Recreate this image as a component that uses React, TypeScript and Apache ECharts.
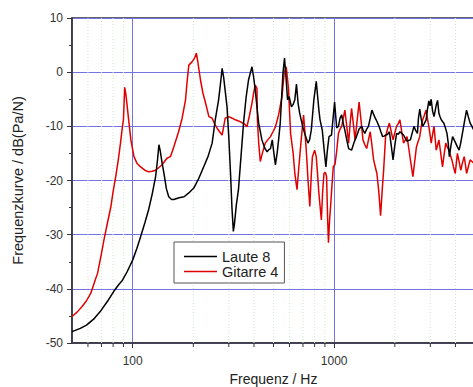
import React, { useEffect, useRef } from "react";
import * as echarts from "echarts";

const lauteFreq = [50, 55, 59, 64, 69, 75, 80.5, 85, 89, 94, 100, 105, 109.5, 115, 120, 125, 130, 133, 135, 137, 140, 143, 147, 151, 156, 160, 170, 180, 190, 201, 213, 225, 237, 248, 257, 267, 273, 278, 283, 288, 294, 300, 306, 311, 316, 320, 327, 335, 345, 355, 366, 376, 391, 398, 406, 414, 422, 438, 452, 465, 474, 483, 493, 500, 511, 521, 530, 540, 549, 557, 567, 573, 578, 587, 598, 606, 614, 625, 638, 650, 662, 674, 686, 700, 714, 741, 755, 770, 781, 793, 815, 828, 840, 851, 873, 890, 910, 925, 943, 970, 985, 1005, 1020, 1030, 1050, 1070, 1090, 1110, 1130, 1155, 1180, 1220, 1255, 1290, 1330, 1370, 1395, 1420, 1450, 1480, 1510, 1540, 1570, 1600, 1635, 1670, 1705, 1740, 1770, 1800, 1840, 1880, 1920, 1960, 2000, 2040, 2080, 2120, 2165, 2210, 2255, 2300, 2340, 2390, 2440, 2490, 2540, 2590, 2620, 2660, 2700, 2750, 2800, 2860, 2900, 2950, 2990, 3030, 3080, 3130, 3170, 3210, 3260, 3310, 3350, 3400, 3450, 3500, 3560, 3630, 3680, 3730, 3800, 3870, 3940, 4010, 4090, 4170, 4250, 4330, 4440, 4540, 4630, 4730, 4830, 4930, 5000];
const lauteDb = [-47.9, -47.3, -46.7, -45.6, -44.2, -42.3, -40.5, -39.3, -38.4, -36.8, -34.7, -32.5, -30.4, -27.8, -25.4, -22.5, -19.3, -16, -13.4, -14.5, -16.8, -18.7, -21.5, -23.0, -23.5, -23.5, -23.2, -23.0, -22.3, -21.4, -19.6, -17.5, -15.5, -13.1, -8.8, -5.1, -2, 0.7, -1, -3.5, -6.4, -12, -18.7, -25, -29.4, -28, -24.5, -21.7, -15.5, -9.4, -4.5, -1.4, 1.0, -0.8, -3.3, -6.5, -9.4, -12.5, -14, -14.7, -14.3, -14.1, -12.5, -14.4, -17.1, -15.0, -12.5, -9.4, -4.5, -0.2, 2.6, 0.5, -1.4, -5.1, -4.5, -5.5, -6.4, -6, -5.1, -2.2, -5.7, -7.5, -8.8, -10.2, -11.3, -13.1, -12.5, -10.7, -8, -5.1, -1.7, -4.5, -7.0, -8.8, -10.7, -14, -17.5, -14.5, -11.9, -11.6, -9, -5.5, -8.5, -10.3, -10.0, -8.5, -7.9, -9.5, -10.7, -12.5, -14.1, -14.4, -13, -11.9, -10.5, -10.0, -10.8, -11.3, -10.5, -10.0, -8.5, -7.0, -7.8, -8.5, -9.2, -10.0, -11, -11.9, -11.8, -11.6, -11.5, -11.0, -13.5, -16.2, -13.5, -11.3, -11.5, -11.0, -11.3, -11.6, -12.2, -12.8, -12.6, -12.5, -11.2, -10.0, -10.8, -11.3, -8.5, -6.8, -8.5, -10.0, -9.5, -8.8, -7, -5.3, -6.2, -5.0, -7.2, -8.2, -7.2, -6.1, -5.2, -7.6, -8.2, -8.8, -9.1, -9.4, -10.2, -11.3, -13, -15.6, -13.5, -11.9, -12.5, -13.1, -13.8, -14.4, -13, -11.3, -9, -7.0, -8.2, -9.4, -10, -10.7, -10.3];

const gitarreFreq = [50, 53, 56, 59, 62, 65, 67, 70, 72, 75, 78, 80, 82.4, 85, 87, 89, 90, 91.3, 92.5, 94, 96, 98, 101.5, 105, 109.5, 115, 120, 125, 130, 135, 140, 148, 154, 160, 169, 176, 183, 186, 190, 197, 203, 207, 210, 217, 223, 230, 239, 248, 255, 263, 270, 278, 283, 288, 300, 312, 323, 335, 348, 360, 369, 380, 391, 400, 406, 410, 414, 416, 422, 430, 440, 455, 468, 483, 497, 511, 530, 551, 565, 578, 586, 594, 601, 608, 617, 626, 638, 654, 668, 686, 705, 716, 727, 742, 757, 770, 780, 800, 815, 828, 840, 864, 877, 890, 905, 917, 928, 937, 950, 960, 975, 990, 1010, 1030, 1050, 1070, 1090, 1110, 1130, 1155, 1180, 1200, 1220, 1245, 1270, 1300, 1330, 1360, 1390, 1420, 1450, 1480, 1510, 1540, 1570, 1600, 1630, 1665, 1700, 1730, 1760, 1780, 1800, 1840, 1880, 1920, 1960, 2000, 2040, 2080, 2120, 2165, 2210, 2255, 2300, 2345, 2390, 2460, 2510, 2560, 2610, 2660, 2700, 2750, 2800, 2860, 2900, 2950, 2990, 3030, 3080, 3130, 3170, 3210, 3260, 3310, 3380, 3450, 3510, 3580, 3640, 3710, 3770, 3840, 3910, 3990, 4040, 4090, 4170, 4250, 4330, 4420, 4480, 4540, 4630, 4730, 4830, 4930, 5000];
const gitarreDb = [-45.1, -44.3, -43.3, -42.2, -40.8, -38.5, -37.1, -33.5, -31.0, -27.8, -24.8, -22, -19.3, -16, -13.1, -10, -8.8, -2.8, -4, -6.4, -9.5, -12.5, -15.6, -16.8, -17.5, -18.1, -18.4, -18.3, -18.1, -17.6, -17.1, -15.9, -15.6, -13.8, -11.0, -8.5, -5.1, -2, 1.3, 1.9, 2.6, 3.5, 2.2, -1.4, -3.8, -5.7, -8.2, -8.5, -9.5, -10.4, -11, -11.6, -10, -8.5, -8.2, -8.5, -8.8, -9, -9.3, -9.6, -10.1, -8, -5.7, -3.5, -2.4, -2.7, -3.0, -8.8, -13, -16.5, -15, -13.1, -12.5, -11.9, -11, -10.1, -7.9, -4.5, -0.2, 1.0, -1, -3.3, -7.5, -11.3, -13.2, -15.0, -18.7, -21.7, -17.5, -12.5, -7.9, -11, -14.4, -20, -24.8, -19, -15.6, -14.4, -15.6, -19, -22.4, -27.3, -22, -18.7, -18.5, -19.3, -27, -31.5, -27, -24.8, -21, -17.5, -17, -14.5, -11.3, -10.5, -10.0, -8.5, -7.0, -10, -13.1, -9.5, -6.7, -9.5, -12.5, -9, -5.5, -9, -12.5, -13.4, -14.1, -12.5, -11.0, -13.5, -16.2, -17.5, -18.7, -22, -26.5, -22, -18.1, -15, -11.9, -10.5, -9.4, -11, -12.5, -11.2, -10.0, -9.5, -8.8, -11, -13.1, -12.5, -11.9, -14, -16.2, -19.3, -16.5, -13.8, -12.8, -11.9, -10.2, -8.8, -8, -7.0, -8.5, -10.0, -11.5, -13.1, -11.5, -10.0, -12.2, -14.4, -13.5, -12.5, -15, -17.5, -15.3, -13.1, -13.8, -14.4, -15.3, -16.2, -17.5, -18.7, -16.8, -15.0, -16.5, -18.1, -16.8, -15.6, -17, -18.7, -17.5, -16.2, -16.5, -16.8, -16.5];

const minorFreqs = [60, 70, 80, 90, 200, 300, 400, 500, 600, 700, 800, 900, 2000, 3000, 4000];
const seriesNames = ["Laute 8", "Gitarre 4"];
const xAxisName = "Frequenz / Hz";
const yAxisName = "Frequenzkurve / dB(Pa/N)";

const FONT = "'Liberation Sans', Arial, sans-serif";

export default function App() {
  const ref = useRef<HTMLDivElement>(null);
  useEffect(() => {
    if (!ref.current) return;
    const chart = echarts.init(ref.current, undefined, { renderer: "svg" });
    const zip = (xs: number[], ys: number[]) => xs.map((x, i) => [x, ys[i]]);
    chart.setOption({
      animation: false,
      backgroundColor: "#fff",
      textStyle: { fontFamily: FONT },
      grid: {
        left: 72,
        top: 18,
        width: 403,
        height: 325,
        outerBoundsMode: "none",
        containLabel: false,
        show: true,
        borderColor: "#333",
        borderWidth: 1.5,
        backgroundColor: "transparent",
      },
      legend: {
        orient: "vertical",
        left: 174,
        top: 242,
        padding: [7, 6, 4, 10],
        itemGap: 0,
        itemWidth: 33,
        itemHeight: 1.5,
        icon: "rect",
        borderColor: "#555",
        borderWidth: 1,
        backgroundColor: "#fff",
        textStyle: { fontSize: 14.5, color: "#222", fontFamily: FONT, lineHeight: 14 },
        data: seriesNames,
      },
      xAxis: {
        type: "log",
        logBase: 10,
        min: 50,
        max: 5000,
        name: xAxisName,
        nameLocation: "middle",
        nameGap: 28,
        nameTextStyle: { fontSize: 14, color: "#222", fontFamily: FONT, lineHeight: 15 },
        axisLine: { show: true, onZero: false, lineStyle: { color: "#333", width: 1.5 } },
        axisTick: { show: true, inside: false, length: 5, lineStyle: { color: "#333" } },
        axisLabel: {
          fontSize: 12,
          color: "#333",
          margin: 12,
          showMinLabel: false,
          showMaxLabel: false,
          formatter: (v: number) => (Math.abs(v - 100) < 1 || Math.abs(v - 1000) < 1 ? String(Math.round(v)) : ""),
        },
        splitLine: { show: true, lineStyle: { color: "#7373e6", width: 1 } },
        minorTick: { show: false },
        minorSplitLine: { show: false },
      },
      yAxis: {
        type: "value",
        min: -50,
        max: 10,
        interval: 10,
        name: yAxisName,
        nameLocation: "middle",
        nameGap: 47,
        nameTextStyle: { fontSize: 14.5, color: "#222", fontFamily: FONT },
        axisLine: { show: true, onZero: false, lineStyle: { color: "#333", width: 1.5 } },
        axisTick: { show: true, inside: false, length: 5, lineStyle: { color: "#333" } },
        minorTick: { show: true, splitNumber: 2, length: 3, lineStyle: { color: "#333" } },
        axisLabel: { fontSize: 12, color: "#333", margin: 9 },
        splitLine: { show: true, lineStyle: { color: "#7373e6", width: 1 } },
      },
      series: [
        {
          type: "custom",
          name: "minor",
          silent: true,
          clip: false,
          z: 1,
          data: minorFreqs.map((f) => [f, -50]),
          encode: { x: 0, y: 1 },
          renderItem: (params: any, api: any) => {
            const x = api.value(0);
            const top = api.coord([x, 10]);
            const bot = api.coord([x, -50]);
            return {
              type: "group",
              children: [
                {
                  type: "line",
                  shape: { x1: top[0], y1: top[1], x2: bot[0], y2: bot[1] },
                  style: { stroke: "#cfeacf", lineWidth: 1, lineDash: [1, 2] },
                },
                {
                  type: "line",
                  shape: { x1: bot[0], y1: bot[1], x2: bot[0], y2: bot[1] + 4 },
                  style: { stroke: "#333", lineWidth: 1 },
                },
              ],
            };
          },
        },
        {
          type: "line",
          name: seriesNames[0],
          data: zip(lauteFreq, lauteDb),
          showSymbol: false,
          symbol: "none",
          color: "#000",
          lineStyle: { color: "#000", width: 1.5 },
          z: 3,
        },
        {
          type: "line",
          name: seriesNames[1],
          data: zip(gitarreFreq, gitarreDb),
          showSymbol: false,
          symbol: "none",
          color: "#e00000",
          lineStyle: { color: "#e00000", width: 1.5 },
          z: 2,
        },
      ],
    });
    return () => chart.dispose();
  }, []);
  return (
    <div
      ref={ref}
      style={{ position: "fixed", left: 0, top: 0, width: 473, height: 387, background: "#fff" }}
    />
  );
}
